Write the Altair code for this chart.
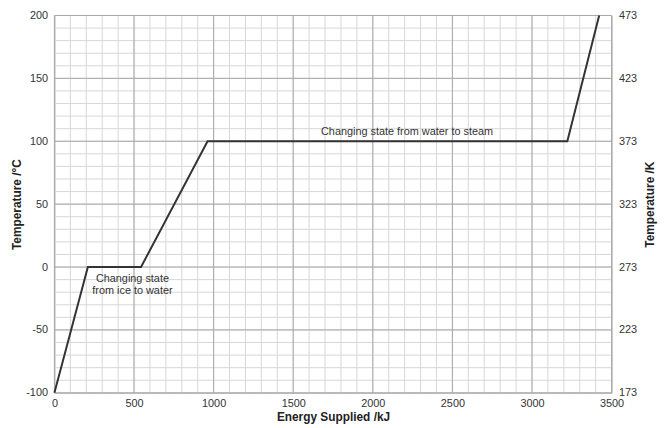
import altair as alt
import pandas as pd

# Heating curve data
energy = [0, 210, 544, 962, 3222, 3422]
temp_c = [-100, 0, 0, 100, 100, 200]
temp_k = [173, 273, 273, 373, 373, 473]

# Tick / grid positions
x_major = [0, 500, 1000, 1500, 2000, 2500, 3000, 3500]
x_minor = list(range(0, 3501, 100))
y_major = [-100, -50, 0, 50, 100, 150, 200]
y_minor = list(range(-100, 201, 10))
k_ticks = [173, 223, 273, 323, 373, 423, 473]

# Annotations
ann_text = ["Changing state from water to steam", "Changing state", "from ice to water"]
ann_x = [2215, 490, 490]
ann_y = [107.5, -9.5, -18.8]

FONT = "Liberation Sans"
xs = alt.Scale(domain=[0, 3500], nice=False, zero=False)
ys = alt.Scale(domain=[-100, 200], nice=False, zero=False)

LBL = "'' + datum.value"
ax_x = alt.Axis(values=x_major, title="Energy Supplied /kJ", labelPadding=5, titlePadding=3,
                labelExpr=LBL, labelFlush=False)
ax_y = alt.Axis(values=y_major, title="Temperature /°C", labelPadding=7, titlePadding=2,
                labelExpr=LBL, labelFlush=False)

df = pd.DataFrame({"energy": energy, "temp_c": temp_c, "temp_k": temp_k})
ann = pd.DataFrame({"text": ann_text, "x": ann_x, "y": ann_y})

minor_x = alt.Chart(pd.DataFrame({"x": x_minor})).mark_rule(color="#d6d6d6", strokeWidth=1).encode(
    x=alt.X("x:Q", scale=xs, axis=ax_x))
minor_y = alt.Chart(pd.DataFrame({"y": y_minor})).mark_rule(color="#d6d6d6", strokeWidth=1).encode(
    y=alt.Y("y:Q", scale=ys, axis=ax_y))
major_x = alt.Chart(pd.DataFrame({"x": x_major})).mark_rule(color="#a8a8a8", strokeWidth=1).encode(
    x=alt.X("x:Q", scale=xs, axis=ax_x))
major_y = alt.Chart(pd.DataFrame({"y": y_major})).mark_rule(color="#a8a8a8", strokeWidth=1).encode(
    y=alt.Y("y:Q", scale=ys, axis=ax_y))

line = alt.Chart(df).mark_line(color="#333333", strokeWidth=2).encode(
    x=alt.X("energy:Q", scale=xs, axis=ax_x),
    y=alt.Y("temp_c:Q", scale=ys, axis=ax_y),
    order=alt.Order("energy:Q"),
)

texts = alt.Chart(ann).mark_text(font=FONT, fontSize=11, color="#333333", align="center", baseline="middle").encode(
    x=alt.X("x:Q", scale=xs, axis=ax_x),
    y=alt.Y("y:Q", scale=ys, axis=ax_y),
    text="text:N",
)

left = alt.layer(minor_x, minor_y, major_x, major_y, line, texts)

right = alt.Chart(df).mark_line(opacity=0).encode(
    x=alt.X("energy:Q", scale=xs, axis=ax_x),
    y=alt.Y("temp_k:Q", scale=alt.Scale(domain=[173, 473], nice=False, zero=False),
            axis=alt.Axis(orient="right", values=k_ticks, title="Temperature /K",
                          labelPadding=7, titlePadding=8, titleAngle=270,
                          titleBaseline="top", labelExpr=LBL, labelFlush=False)),
)

chart = alt.layer(left, right).resolve_scale(y="independent").properties(
    width=564, height=382,
    autosize=alt.AutoSizeParams(type="none"),
    padding={"left": 47, "top": 5, "right": 48, "bottom": 30},
).configure_view(stroke=None).configure_axis(
    labelFont=FONT, labelFontSize=11, labelColor="#333333",
    titleFont=FONT, titleFontSize=12, titleFontWeight="bold", titleColor="#222222",
    ticks=False, grid=False, domainColor="#a8a8a8",
)

chart.save("out.html", embed_options={"renderer": "svg", "actions": False})
